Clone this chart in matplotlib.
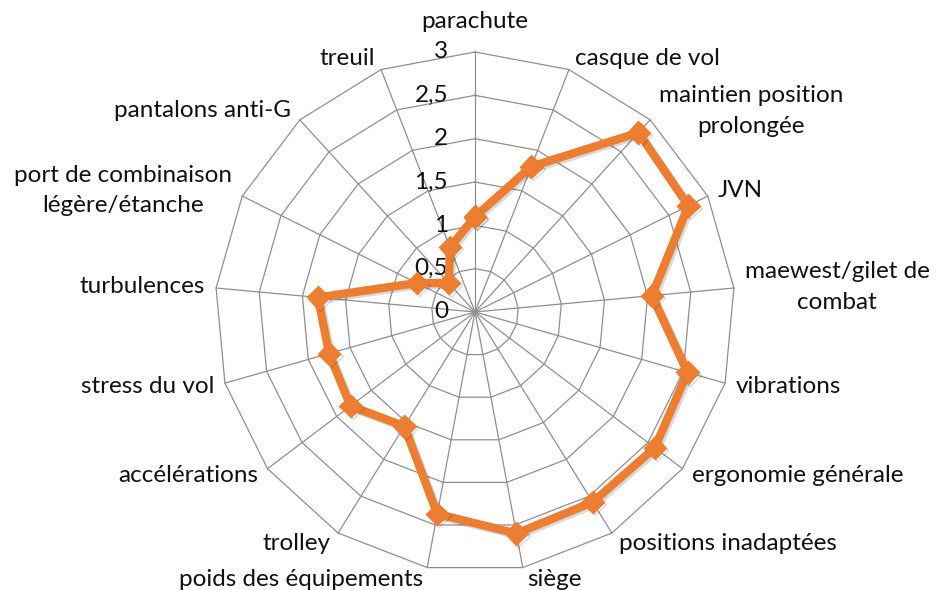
import numpy as np
import matplotlib
matplotlib.use("Agg")
import matplotlib.pyplot as plt
import matplotlib.patheffects as pe

# catégories (sens horaire depuis le haut)
categories = [
    "parachute", "casque de vol", "maintien position\nprolongée", "JVN",
    "maewest/gilet de\ncombat", "vibrations", "ergonomie générale",
    "positions inadaptées", "siège", "poids des équipements", "trolley",
    "accélérations", "stress du vol", "turbulences",
    "port de combinaison\nlégère/étanche", "pantalons anti-G", "treuil",
]
values = [1.1, 1.8, 2.8, 2.75, 2.05, 2.55, 2.6, 2.58, 2.6, 2.37,
          1.55, 1.8, 1.75, 1.82, 0.75, 0.45, 0.8]
levels = [0, 0.5, 1, 1.5, 2, 2.5, 3]
level_labels = ["0", "0,5", "1", "1,5", "2", "2,5", "3"]

plt.rcParams['font.family'] = ['Lato', 'DejaVu Sans']

n = len(categories)
theta = np.arange(n) * 2 * np.pi / n
theta_c = np.append(theta, theta[0])

fig = plt.figure(figsize=(9.36, 5.9), dpi=100)
ax = fig.add_axes([215 / 936, 18 / 590, 520 / 936, 520 / 590], projection='polar')
ax.set_theta_offset(np.pi / 2)
ax.set_theta_direction(-1)
ax.set_ylim(0, 3)
ax.grid(False)
ax.set_xticks([])
ax.set_yticks([])
ax.spines['polar'].set_visible(False)
ax.patch.set_visible(False)

grid_col = '#8f8f8f'
fs = 17.5
# toile d'araignée polygonale
for lv in levels[1:]:
    ax.plot(theta_c, [lv] * (n + 1), color=grid_col, lw=0.9, zorder=1, clip_on=False)
for t in theta:
    ax.plot([t, t], [0, 3], color=grid_col, lw=0.9, zorder=1, clip_on=False)

# graduations
for lv, lab in zip(levels, level_labels):
    ax.annotate(lab, xy=(0, lv), xytext=(-27, 0), textcoords='offset pixels',
                ha='right', va='center', fontsize=fs, color='#111111')

# étiquettes des catégories
for t, lab in zip(theta, categories):
    ang = np.pi / 2 - t
    c, s = np.cos(ang), np.sin(ang)
    if abs(c) < 0.05:
        ax.annotate(lab, xy=(t, 3), xytext=(0, 20), textcoords='offset pixels',
                    ha='center', va='bottom', fontsize=fs, color='#111111')
        continue
    dx = np.sign(c) * (3 + 8 * abs(c))
    dy = 12 * s
    ax.annotate(lab, xy=(t, 3), xytext=(dx, dy), textcoords='offset pixels',
                ha='left' if c > 0 else 'right', va='center', multialignment='center',
                fontsize=fs, color='#111111', linespacing=1.55)

# série
vals_c = values + values[:1]
ax.plot(theta_c, vals_c, color='#ED7D31', lw=6, marker='D', ms=11.5,
        markeredgecolor='#ED7D31', solid_joinstyle='miter', zorder=3, clip_on=False,
        path_effects=[pe.SimpleLineShadow(offset=(1.5, -1.5), shadow_color='k', alpha=0.15),
                      pe.Normal()])

fig.savefig('out.png', dpi=100)
